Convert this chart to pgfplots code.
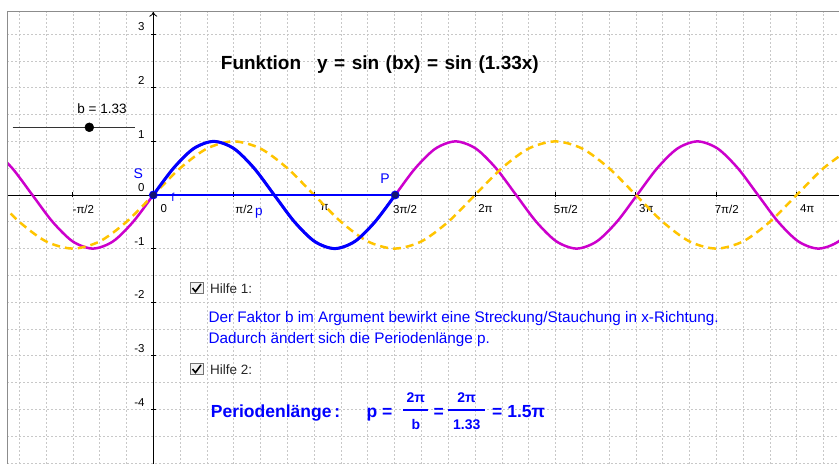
\documentclass[border=0pt]{standalone}
\usepackage{pgfplots}
\pgfplotsset{compat=1.18}
\usepackage{fontspec}
\setmainfont{Liberation Sans}
\usetikzlibrary{arrows.meta}
\definecolor{ggmag}{RGB}{204,0,204}
\definecolor{ggyel}{RGB}{255,196,0}
\definecolor{ggblue}{RGB}{0,0,255}
\definecolor{ggpt}{RGB}{20,20,110}
\definecolor{gggrid}{RGB}{200,200,200}
\begin{document}
\begin{tikzpicture}
\path[use as bounding box] (0bp,0bp) rectangle (839bp,464bp);
\begin{axis}[
  at={(7.3bp,0bp)}, anchor=south west,
  scale only axis, width=831.7bp, height=452.3bp,
  xmin=-2.852, xmax=13.393, ymin=-5.019, ymax=3.420,
  axis lines=middle,
  hide obscured x ticks=false, hide obscured y ticks=false,
  axis line style={black, line width=0.8bp},
  x axis line style={-},
  y axis line style={-{To[length=5bp,width=8bp]}},
  xtick={-1.5708,0,1.5708,3.1416,4.7124,6.2832,7.854,9.4248,10.9956,12.5664},
  xticklabels={-π/2,0,π/2,π,3π/2,2π,5π/2,3π,7π/2,4π},
  ytick={-4,-3,-2,-1,0,1,2,3},
  yticklabels={-4,-3,-2,-1,0,1,2,3},
  minor xtick={-2.618,-2.0944,-1.0472,-0.5236,0.5236,1.0472,2.0944,2.618,3.6652,4.1888,5.236,5.7596,6.8068,7.3304,8.3776,8.9012,9.9484,10.472,11.5192,12.0428,13.09},
  minor ytick={-5,-4.5,-3.5,-2.5,-1.5,-0.5,0.5,1.5,2.5},
  grid=both,
  major grid style={gggrid, line width=0.6bp, dash pattern=on 2bp off 2bp},
  minor grid style={gggrid, line width=0.6bp, dash pattern=on 2bp off 2bp},
  major tick length=5bp, minor tick length=0pt, tick align=center,
  tick style={black, line width=0.8bp},
  xticklabel style={anchor=north, inner sep=0pt, xshift=10.5bp, yshift=-7bp, font=\fontsize{11.5bp}{13bp}\selectfont},
  yticklabel style={anchor=south east, inner sep=0pt, xshift=-6bp, yshift=3bp, font=\fontsize{11.5bp}{13bp}\selectfont},
  clip=true,
]
% slider
\addplot[black!80, line width=1bp] coordinates {(-2.746,1.263) (-0.357,1.263)};
\addplot[only marks, mark=*, mark size=4.5bp, black] coordinates {(-1.25,1.263)};
% magenta sin(1.33x)
\addplot[ggmag, line width=2.5bp, smooth] coordinates {
(-3.1495,0.866) (-2.7558,0.5) (-2.3621,0) (-1.9684,-0.5) (-1.5747,-0.866) (-1.1810,-1) (-0.7874,-0.866) (-0.3937,-0.5) (0,0) (0.3937,0.5) (0.7874,0.866) (1.1810,1) (1.5747,0.866) (1.9684,0.5) (2.3621,0) (2.7558,-0.5) (3.1495,-0.866) (3.5431,-1) (3.9368,-0.866) (4.3305,-0.5) (4.7242,0) (5.1179,0.5) (5.5116,0.866) (5.9052,1) (6.2989,0.866) (6.6926,0.5) (7.0863,0) (7.4800,-0.5) (7.8737,-0.866) (8.2673,-1) (8.6610,-0.866) (9.0547,-0.5) (9.4484,0) (9.8421,0.5) (10.2358,0.866) (10.6294,1) (11.0231,0.866) (11.4168,0.5) (11.8105,0) (12.2042,-0.5) (12.5979,-0.866) (12.9915,-1) (13.3852,-0.866) (13.7789,-0.5)};
% yellow dashed sin(x)
\addplot[ggyel, line width=2.5bp, dash pattern=on 8bp off 5bp, smooth] coordinates {
(-3.1416,0) (-2.6180,-0.5) (-2.0944,-0.866) (-1.5708,-1) (-1.0472,-0.866) (-0.5236,-0.5) (0,0) (0.5236,0.5) (1.0472,0.866) (1.5708,1) (2.0944,0.866) (2.6180,0.5) (3.1416,0) (3.6652,-0.5) (4.1888,-0.866) (4.7124,-1) (5.2360,-0.866) (5.7596,-0.5) (6.2832,0) (6.8068,0.5) (7.3304,0.866) (7.8540,1) (8.3776,0.866) (8.9012,0.5) (9.4248,0) (9.9484,-0.5) (10.4720,-0.866) (10.9956,-1) (11.5192,-0.866) (12.0428,-0.5) (12.5664,0) (13.0900,0.5) (13.6136,0.866)};
% blue one period
\addplot[ggblue, line width=3bp, smooth] coordinates {
(0,0) (0.3937,0.5) (0.7874,0.866) (1.1810,1) (1.5747,0.866) (1.9684,0.5) (2.3621,0) (2.7558,-0.5) (3.1495,-0.866) (3.5431,-1) (3.9368,-0.866) (4.3305,-0.5) (4.7242,0)};
% period segment
\addplot[ggblue, line width=2.5bp] coordinates {(0,0) (4.7242,0)};
% points S and P
\addplot[only marks, mark=*, mark size=4bp, mark options={fill=ggpt, draw=ggblue, line width=0.8bp}] coordinates {(0,0) (4.7242,0)};
\end{axis}
% frame
\draw[black!45, line width=1bp] (7.3bp,0bp) -- (7.3bp,452.3bp) -- (839bp,452.3bp);
% labels
\node[anchor=base, inner sep=0pt, font=\fontsize{13.5bp}{15bp}\selectfont] at (102bp,350.7bp) {b = 1.33};
\node[anchor=center, inner sep=0pt, text=ggblue, font=\fontsize{14bp}{16bp}\selectfont] at (138.3bp,290bp) {S};
\node[anchor=base, inner sep=0pt, text=ggblue, font=\fontsize{11.5bp}{13bp}\selectfont] at (173bp,262.3bp) {f};
\node[anchor=base, inner sep=0pt, text=ggblue, font=\fontsize{13.5bp}{15bp}\selectfont] at (259bp,248bp) {p};
\node[anchor=center, inner sep=0pt, text=ggblue, font=\fontsize{14bp}{16bp}\selectfont] at (385bp,285bp) {P};
% title
\node[anchor=base west, inner sep=0pt, font=\fontsize{19bp}{22bp}\selectfont\bfseries] at (220.7bp,394bp) {Funktion\hspace{16bp}{\spaceskip=6.5bp y = sin (bx) = sin (1.33x)}};
% Hilfe 1
\draw[black!55, fill=black!5, line width=0.8bp] (190bp,171bp) rectangle (203bp,182bp);
\draw[black, line width=1.6bp] (192.5bp,176bp) -- (195.5bp,172.5bp) -- (201bp,180bp);
\node[anchor=base west, inner sep=0pt, text=black!85, font=\fontsize{13.5bp}{16bp}\selectfont] at (210bp,170bp) {Hilfe 1:};
\node[anchor=base west, inner sep=0pt, text=ggblue, font=\fontsize{15.3bp}{17bp}\selectfont] at (208.3bp,141.5bp) {Der Faktor b im Argument bewirkt eine Streckung/Stauchung in x-Richtung.};
\node[anchor=base west, inner sep=0pt, text=ggblue, font=\fontsize{15.3bp}{17bp}\selectfont] at (208.3bp,120bp) {Dadurch ändert sich die Periodenlänge p.};
% Hilfe 2
\draw[black!55, fill=black!5, line width=0.8bp] (190bp,90bp) rectangle (203bp,101bp);
\draw[black, line width=1.6bp] (192.5bp,95bp) -- (195.5bp,91.5bp) -- (201bp,99bp);
\node[anchor=base west, inner sep=0pt, text=black!85, font=\fontsize{13.5bp}{16bp}\selectfont] at (210bp,89bp) {Hilfe 2:};
% formula
\begin{scope}[every node/.style={inner sep=0pt, text=ggblue}]
\node[anchor=base west, font=\fontsize{17.5bp}{20bp}\selectfont\bfseries] at (210.7bp,46.7bp) {Periodenlänge\,:};
\node[anchor=base west, font=\fontsize{17.5bp}{20bp}\selectfont\bfseries] at (366.5bp,46.7bp) {p =};
\node[anchor=base, font=\fontsize{14bp}{16bp}\selectfont\bfseries] at (415.8bp,61.3bp) {2π};
\draw[ggblue, line width=2bp] (403.3bp,54bp) -- (428.3bp,54bp);
\node[anchor=base, font=\fontsize{14bp}{16bp}\selectfont\bfseries] at (415.8bp,34.7bp) {b};
\node[anchor=base west, font=\fontsize{17.5bp}{20bp}\selectfont\bfseries] at (433.5bp,46.7bp) {=};
\node[anchor=base, font=\fontsize{14bp}{16bp}\selectfont\bfseries] at (466.7bp,61.3bp) {2π};
\draw[ggblue, line width=2bp] (448.3bp,54bp) -- (485bp,54bp);
\node[anchor=base, font=\fontsize{14bp}{16bp}\selectfont\bfseries] at (466.7bp,34.7bp) {1.33};
\node[anchor=base west, font=\fontsize{17.5bp}{20bp}\selectfont\bfseries] at (492bp,46.7bp) {= 1.5π};
\end{scope}
\end{tikzpicture}
\end{document}
